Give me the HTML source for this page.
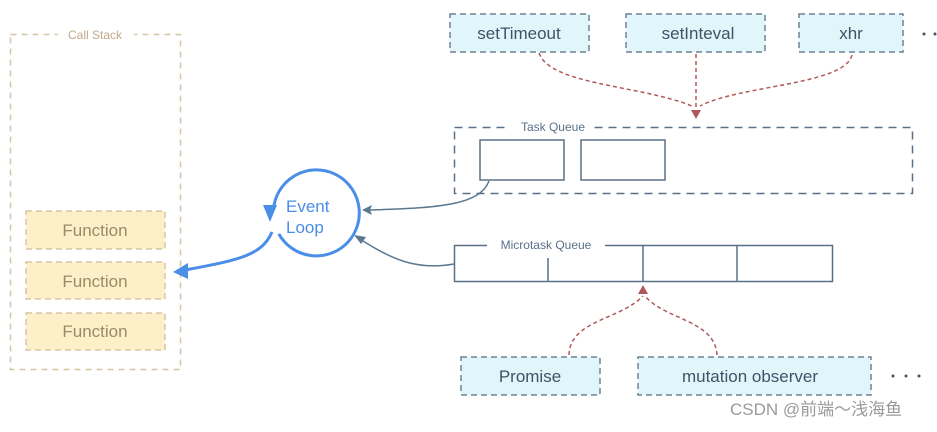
<!DOCTYPE html>
<html><head><style>
body{margin:0;background:#fff;width:937px;height:427px;overflow:hidden}
text{font-family:"Liberation Sans","Noto Sans CJK SC",sans-serif}
</style></head><body>
<svg width="937" height="427" viewBox="0 0 937 427">
<!-- Call stack -->
<rect x="10.5" y="34.5" width="170" height="335" fill="none" stroke="#d6c6a6" stroke-width="1.5" stroke-dasharray="6,5"/>
<rect x="58" y="26" width="76" height="16" fill="#fff"/>
<text x="95" y="39" font-size="12" fill="#c0a986" text-anchor="middle">Call Stack</text>
<g fill="#fdf0c8" stroke="#d6c6a6" stroke-width="1.5" stroke-dasharray="6,4">
<rect x="26" y="211" width="139" height="38"/>
<rect x="26" y="262" width="139" height="37"/>
<rect x="26" y="313" width="139" height="37"/>
</g>
<g font-size="17" fill="#9b8a66" text-anchor="middle">
<text x="95" y="236">Function</text><text x="95" y="287">Function</text><text x="95" y="337">Function</text>
</g>
<!-- Event loop -->
<path d="M276,228 A43,43 0 1 0 275,203" fill="none" stroke="#4a8ee8" stroke-width="3" transform="rotate(-10 311 215)"/>
<path d="M263,205 L277,205 L270,222 Z" fill="#4a8ee8"/>
<text x="286" y="212" font-size="17" fill="#4a8ee8">Event</text>
<text x="286" y="233" font-size="17" fill="#4a8ee8">Loop</text>
<path d="M272,232 C262,255 240,260 185,270" fill="none" stroke="#4a8ee8" stroke-width="3"/>
<path d="M173,272 L188,263 L188,279 Z" fill="#4a8ee8"/>
<!-- connectors to event loop -->
<path d="M489,181 C480,205 440,208 368,210" fill="none" stroke="#5a7890" stroke-width="1.5"/>
<path d="M362,210 L372,205 L370,210 L372,215 Z" fill="#5a7890"/>
<path d="M454,264 C420,270 395,262 360,239" fill="none" stroke="#5a7890" stroke-width="1.5"/>
<path d="M354,235 L366,237 L361,244 Z" fill="#5a7890"/>
<!-- top sources -->
<g fill="#e1f6fb" stroke="#6f8294" stroke-width="1.5" stroke-dasharray="6,4">
<rect x="450" y="14" width="139" height="38"/>
<rect x="626" y="14" width="139" height="38"/>
<rect x="799" y="14" width="104" height="38"/>
<rect x="461" y="357" width="139" height="38"/>
<rect x="638" y="357" width="233" height="38"/>
</g>
<g font-size="17" fill="#3d5466" text-anchor="middle">
<text x="519" y="39">setTimeout</text><text x="698" y="39">setInteval</text><text x="851" y="39">xhr</text>
<text x="530" y="382">Promise</text><text x="750" y="382">mutation observer</text>
</g>
<g fill="#3d5466"><circle cx="924" cy="34" r="1.5"/><circle cx="935" cy="34" r="1.5"/>
<circle cx="893" cy="376" r="1.5"/><circle cx="906" cy="376" r="1.5"/><circle cx="919" cy="376" r="1.5"/></g>
<!-- red dashed -->
<g fill="none" stroke="#b0595a" stroke-width="1.5" stroke-dasharray="4,3">
<path d="M539,53 C550,85 640,85 692,106"/>
<path d="M696,54 L696,110"/>
<path d="M852,55 C845,85 740,85 700,106"/>
<path d="M569,355 C570,320 620,320 643,296"/>
<path d="M717,355 C715,320 665,320 645,296"/>
</g>
<path d="M691,110 L701,110 L696,119 Z" fill="#b0595a"/>
<path d="M638,294 L648,294 L643,285 Z" fill="#b0595a"/>
<!-- task queue -->
<rect x="454.5" y="127.5" width="458" height="66" fill="none" stroke="#5a7088" stroke-width="1.5" stroke-dasharray="8,6"/>
<rect x="510" y="120" width="84" height="14" fill="#fff"/>
<text x="553" y="131" font-size="12" fill="#5a7088" text-anchor="middle">Task Queue</text>
<g fill="#fff" stroke="#5a7088" stroke-width="1.5">
<rect x="480" y="140" width="84" height="40"/><rect x="581" y="140" width="84" height="40"/>
</g>
<!-- microtask -->
<rect x="454.5" y="245.5" width="378" height="36" fill="none" stroke="#5a7088" stroke-width="1.5"/>
<rect x="487" y="238" width="118" height="14" fill="#fff"/>
<text x="546" y="249" font-size="12" fill="#5a7088" text-anchor="middle">Microtask Queue</text>
<g stroke="#5a7088" stroke-width="1.5"><line x1="548" y1="258" x2="548" y2="282"/><line x1="643" y1="245" x2="643" y2="282"/><line x1="737" y1="245" x2="737" y2="282"/></g>
<text x="730" y="415" font-size="17" fill="#9a9a9a">CSDN @前端～浅海鱼</text>
</svg>
</body></html>
